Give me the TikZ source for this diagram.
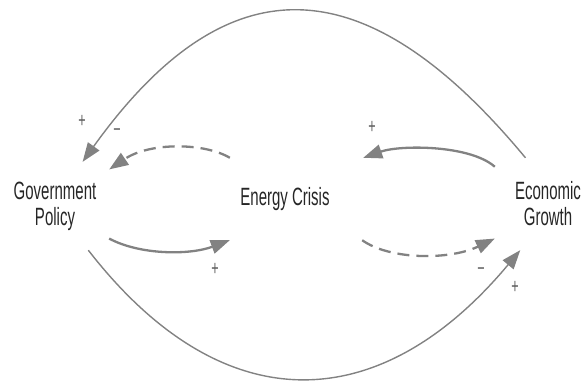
\documentclass[tikz,border=0pt]{standalone}
\usepackage{fontspec}
\setmainfont{Liberation Sans}[FakeStretch=0.6]
\usepackage{tikz}
\usepackage{xcolor}
\usetikzlibrary{arrows.meta}
\definecolor{pfeilgrau}{HTML}{828282}
\definecolor{textgrau}{HTML}{262626}

\begin{document}
\begin{tikzpicture}[x=1pt, y=1pt,
    var/.style={align=center, inner sep=0pt, text=textgrau,
      font=\fontsize{25}{26}\selectfont},
    link/.style={draw=pfeilgrau, line width=2.3pt,
      -{Triangle[length=19pt, width=14pt]}, fill=none},
    bogen/.style={link, line width=1.4pt},
    neg/.style={dash pattern=on 12pt off 7pt},
    sign/.style={text=textgrau!75, font=\fontsize{21}{21}\selectfont}]
    \useasboundingbox (0,0) rectangle (585,382);
    % Variablen
    \node[var, minimum width=108pt, minimum height=88pt] (gov) at (55,176) {Government\\Policy};
    \node[var, minimum width=110pt, minimum height=82pt] (crisis) at (285,183) {Energy Crisis};
    \node[var, minimum width=106pt, minimum height=92pt] (econ) at (548,178) {Economic\\Growth};
    % Wirkungen
    \draw[bogen] (econ.116) .. controls +(-160,193) and +(145,202) .. (gov.58);
    \draw[link, neg] (crisis.north west) .. controls +(-25,15) and +(41,27.6) .. (gov.34);
    \draw[link] (econ.145) .. controls +(-25,22) and +(37,13) .. ([xshift=23pt]crisis.north east);
    \draw[link] (gov.-31) .. controls +(31,-16.6) and +(-40,-15) .. (crisis.south west);
    \draw[link, neg] ([xshift=22pt]crisis.south east) .. controls +(28,-20) and +(-45,-21.6) .. (econ.213);
    \draw[bogen] (gov.-53) .. controls +(135,-174) and +(-139.4,-167) .. (econ.239);
    % Polaritaeten
    \node[sign] (s1) at (82,261) {+};
    \node[sign] (s2) at (117,249) {−};
    \node[sign] (s3) at (372,255) {+};
    \node[sign] (s4) at (215,113) {+};
    \node[sign] (s5) at (481,110) {−};
    \node[sign] (s6) at (515,95) {+};
\end{tikzpicture}
\end{document}
